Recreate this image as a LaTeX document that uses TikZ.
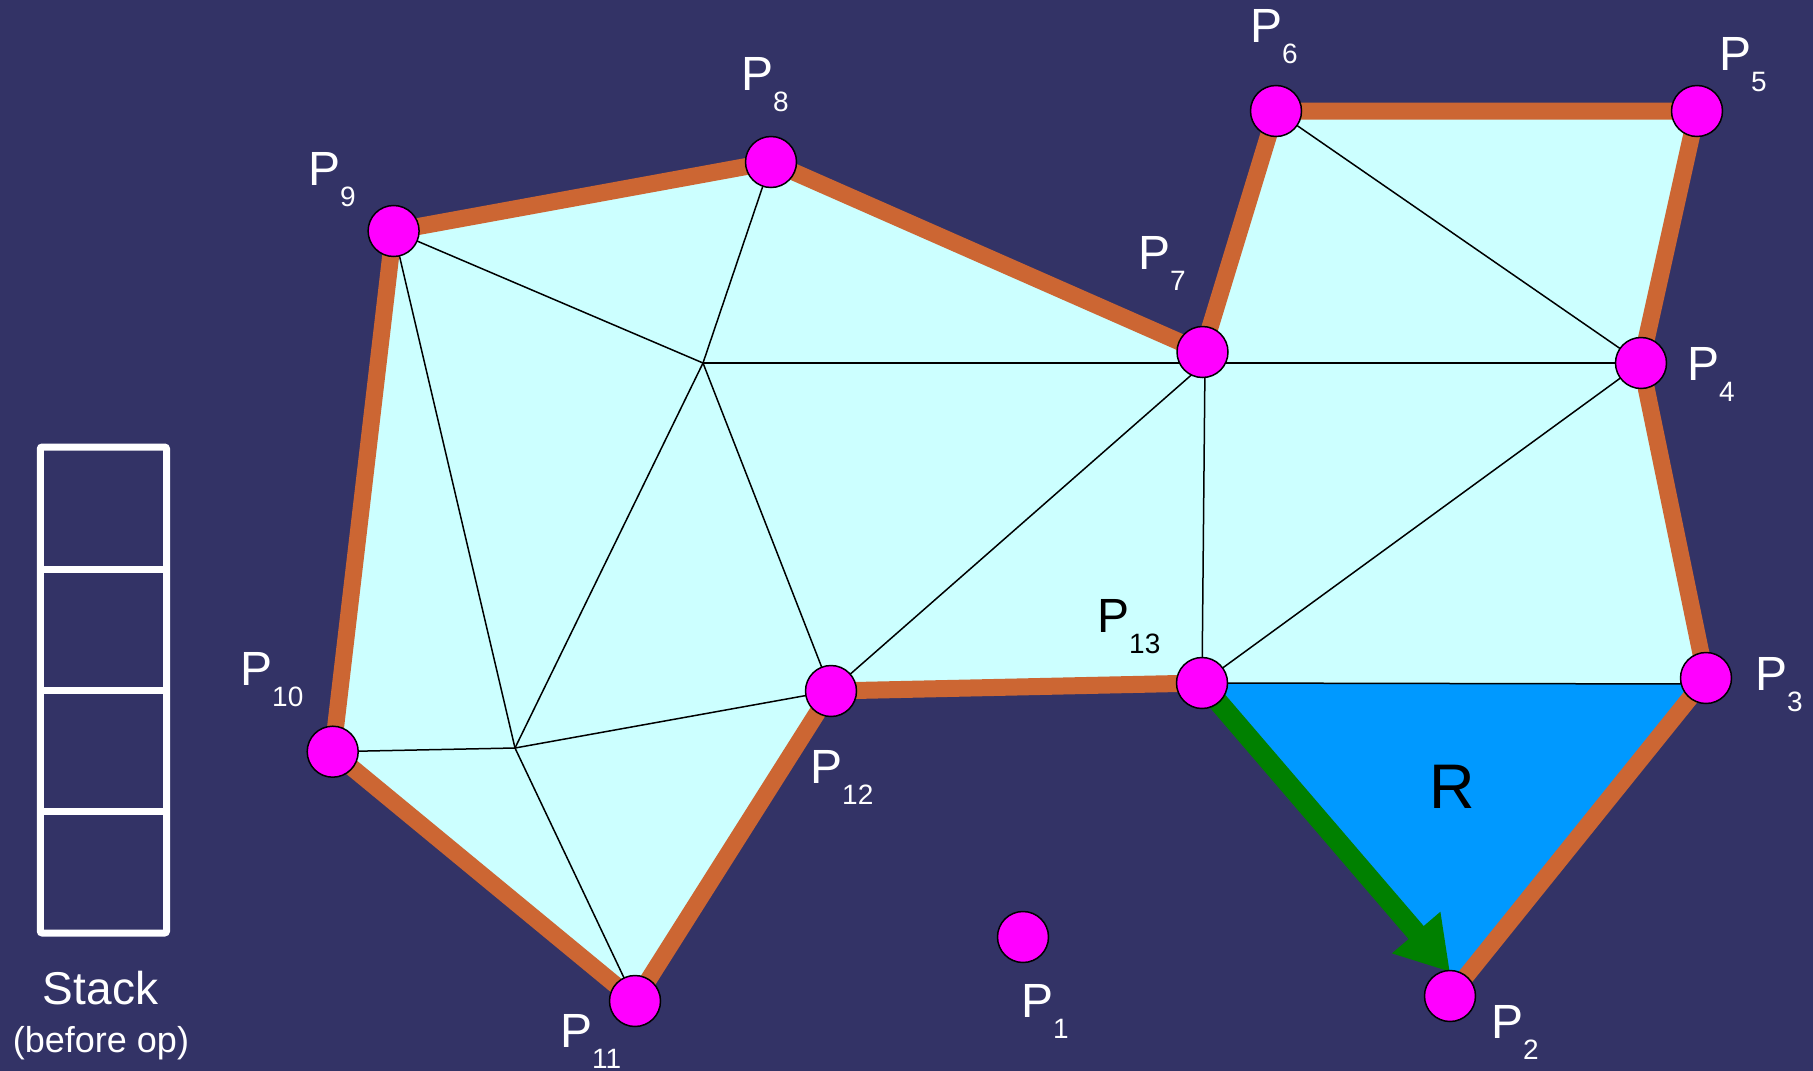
\documentclass[tikz,border=0pt]{standalone}
\usepackage{fontspec}
\setmainfont{Liberation Sans}
\usetikzlibrary{arrows.meta}
\definecolor{bgblue}{HTML}{333366}
\definecolor{lightfill}{HTML}{CCFFFF}
\definecolor{rfill}{HTML}{0099FF}
\definecolor{hullorange}{HTML}{CC6633}
\definecolor{arrowgreen}{HTML}{008000}
\definecolor{ptmag}{HTML}{FF00FF}
\newcommand\subnum[1]{\lower21pt\hbox{\fontsize{28}{30}\selectfont #1}}
\begin{document}
\begin{tikzpicture}[x=1pt,y=-1pt,
  vertex/.style={circle,fill=ptmag,draw=black,line width=1.5pt,minimum size=51pt,inner sep=0pt},
  plab/.style={anchor=base west,inner sep=0pt,text=white,font=\fontsize{48}{58}\selectfont},
  tri/.style={black,line width=1.5pt},
  hulledge/.style={hullorange,line width=17pt,line join=round},
  stackline/.style={white,line width=7pt},
  greenarrow/.style={arrowgreen,line width=20pt,-{Triangle[length=52pt,width=60pt]}}]
\fill[bgblue] (0,0) rectangle (1813,1071);
\useasboundingbox (0,0) rectangle (1813,1071);

% vertex centres
\coordinate (c1) at (1023,937);
\coordinate (c2) at (1450,996);
\coordinate (c3) at (1706,678);
\coordinate (v3) at (1706,684);
\coordinate (c4) at (1641,363);
\coordinate (c5) at (1697,111);
\coordinate (c6) at (1276,111);
\coordinate (c7) at (1202.5,352);
\coordinate (v7) at (1205,363);
\coordinate (c8) at (771,162);
\coordinate (c9) at (393.6,231);
\coordinate (c10) at (332.7,751.7);
\coordinate (c11) at (635,1001);
\coordinate (c12) at (831,691);
\coordinate (c13) at (1202,683);
\coordinate (A) at (703,363);
\coordinate (B) at (515,748);
\coordinate (tip2) at (1450,972);

% fills
\fill[lightfill] (c9) -- (c8) -- (c7) -- (c6) -- (c5) -- (c4) -- (v3) -- (c13) -- (c12) -- (c11) -- (c10) -- cycle;
\fill[rfill] (c13) -- (v3) -- (c2) -- (tip2) -- cycle;

% triangulation
\draw[tri] (c9) -- (A);
\draw[tri] (c8) -- (A);
\draw[tri] (A) -- (v7);
\draw[tri] (v7) -- (c4);
\draw[tri] (c9) -- (B);
\draw[tri] (A) -- (B);
\draw[tri] (A) -- (c12);
\draw[tri] (c10) -- (B);
\draw[tri] (B) -- (c12);
\draw[tri] (B) -- (c11);
\draw[tri] (c12) -- (v7);
\draw[tri] (v7) -- (c13);
\draw[tri] (c6) -- (c4);
\draw[tri] (c4) -- (c13);
\draw[tri] (c13) -- (v3);

% hull
\draw[hulledge] (c2) -- (c3) -- (c4) -- (c5) -- (c6) -- (c7) -- (c8) -- (c9) -- (c10) -- (c11) -- (c12) -- (c13);

% green arrow
\draw[greenarrow] (c13) -- (tip2);

% points
\node[vertex] (P1) at (c1) {};
\node[vertex] (P2) at (c2) {};
\node[vertex] (P3) at (c3) {};
\node[vertex] (P4) at (c4) {};
\node[vertex] (P5) at (c5) {};
\node[vertex] (P6) at (c6) {};
\node[vertex] (P7) at (c7) {};
\node[vertex] (P8) at (c8) {};
\node[vertex] (P9) at (c9) {};
\node[vertex] (P10) at (c10) {};
\node[vertex] (P11) at (c11) {};
\node[vertex] (P12) at (c12) {};
\node[vertex] (P13) at (c13) {};

% labels
\node[plab] (L1) at (1021,1017) {P\subnum{1}};
\node[plab] (L2) at (1491,1038) {P\subnum{2}};
\node[plab] (L3) at (1755,690) {P\subnum{3}};
\node[plab] (L4) at (1687,380) {P\subnum{4}};
\node[plab] (L5) at (1719,70) {P\subnum{5}};
\node[plab] (L6) at (1250,42) {P\subnum{6}};
\node[plab] (L7) at (1138,269) {P\subnum{7}};
\node[plab] (L8) at (741,90) {P\subnum{8}};
\node[plab] (L9) at (308,185) {P\subnum{9}};
\node[plab] (L10) at (240,685) {P\subnum{10}};
\node[plab] (L11) at (560,1047) {P\subnum{11}};
\node[plab] (L12) at (810,783) {P\subnum{12}};
\node[plab,text=black] (L13) at (1097,632) {P\subnum{13}};

\node[anchor=base,inner sep=0pt,text=black,font=\fontsize{63}{75}\selectfont] (R) at (1452.5,808) {R};

% stack
\draw[stackline,rounded corners=2pt] (40.3,447) rectangle (166.5,933);
\draw[stackline] (40.3,569.4) -- (166.5,569.4);
\draw[stackline] (40.3,690) -- (166.5,690);
\draw[stackline] (40.3,811.3) -- (166.5,811.3);
\node[anchor=base,inner sep=0pt,text=white,font=\fontsize{46}{55}\selectfont] (stack) at (100.5,1004.5) {Stack};
\node[anchor=base,inner sep=0pt,text=white,font=\fontsize{36}{43}\selectfont] (beforeop) at (101,1052) {(before op)};
\end{tikzpicture}
\end{document}
